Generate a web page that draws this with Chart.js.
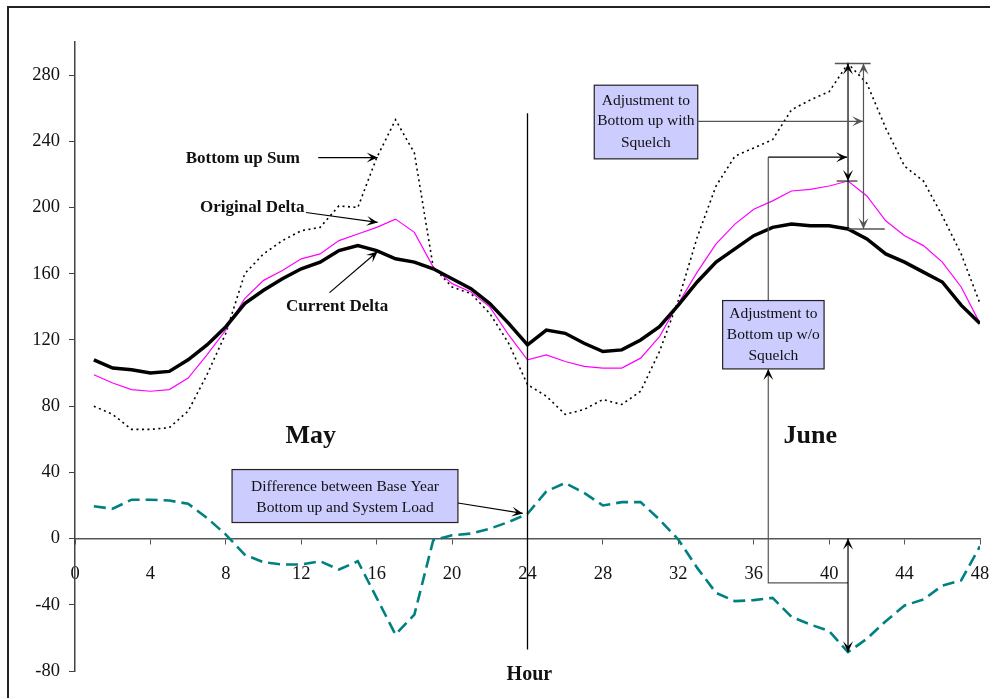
<!DOCTYPE html>
<html>
<head>
<meta charset="utf-8">
<script src="https://cdn.jsdelivr.net/npm/chart.js@4"></script>
<style>
  html, body { margin: 0; padding: 0; background: #fff; }
  #wrap { width: 990px; height: 698px; position: relative; }
</style>
</head>
<body>
<div id="wrap"><canvas id="chart" width="990" height="698"></canvas></div>
<script>
const hours = [1, 2, 3, 4, 5, 6, 7, 8, 9, 10, 11, 12, 13, 14, 15, 16, 17, 18, 19, 20, 21, 22, 23, 24,
               25, 26, 27, 28, 29, 30, 31, 32, 33, 34, 35, 36, 37, 38, 39, 40, 41, 42, 43, 44, 45, 46, 47, 48];

const currentDelta = [108, 103, 102, 100, 101, 108, 117, 128, 142, 150, 157, 163, 167, 174, 177, 174, 169, 167, 163, 157, 151, 142, 130, 117,
                      126, 124, 118, 113, 114, 120, 128, 141, 155, 167, 175, 183, 188, 190, 189, 189, 187, 181, 172, 167, 161, 155, 141, 130];

const originalDelta = [99, 94, 90, 89, 90, 97, 111, 126, 145, 156, 162, 169, 172, 180, 184, 188, 193, 185, 164, 154, 149, 140, 123, 108,
                       111, 107, 104, 103, 103, 109, 122, 142, 161, 178, 190, 199, 204, 210, 211, 213, 216, 207, 192, 183, 177, 167, 152, 130];

const bottomUpSum = [80, 75, 66, 66, 67, 77, 99, 124, 160, 172, 180, 186, 188, 201, 200, 230, 253, 233, 164, 152, 148, 136, 118, 93,
                     86, 75, 78, 84, 81, 89, 113, 144, 182, 213, 231, 236, 241, 259, 265, 270, 287, 275, 248, 225, 216, 195, 172, 142];

const difference = [19.5, 18, 23.5, 23.5, 23, 21, 12.5, 2.4, -9.7, -14.3, -15.7, -15.7, -13.7, -18.7, -13.7, -35.8, -58, -45.9, -1, 2, 3, 6, 10, 15,
                    28.5, 33.6, 27.6, 20, 22, 22, 11.5, -0.6, -17.7, -32.8, -37.8, -37.2, -35.8, -47.3, -51.9, -55.9, -68.6, -60.5, -49.9, -40.4, -36.8, -28.4, -25.3, -4.6];

const xTicks = [0, 4, 8, 12, 16, 20, 24, 28, 32, 36, 40, 44, 48];
const yTicks = [-80, -40, 0, 40, 80, 120, 160, 200, 240, 280];

const SERIF = '"Liberation Serif", "Times New Roman", serif';

function pts(arr) {
    return hours.map((h, i) => ({ x: h, y: arr[i] }));
}

// notched arrow head, tip at (x, y), pointing along ang
function head(ctx, x, y, ang, color) {
    ctx.save();
    ctx.translate(x, y);
    ctx.rotate(ang);
    ctx.beginPath();
    ctx.moveTo(0, 0);
    ctx.lineTo(-11, -5);
    ctx.lineTo(-6, 0);
    ctx.lineTo(-11, 5);
    ctx.closePath();
    ctx.fillStyle = color;
    ctx.fill();
    ctx.restore();
}

function arrow(ctx, x1, y1, x2, y2, color, both) {
    ctx.strokeStyle = color;
    ctx.lineWidth = 1.2;
    ctx.beginPath();
    ctx.moveTo(x1, y1);
    ctx.lineTo(x2, y2);
    ctx.stroke();
    const a = Math.atan2(y2 - y1, x2 - x1);
    head(ctx, x2, y2, a, color);
    if (both) head(ctx, x1, y1, a + Math.PI, color);
}

function line(ctx, points, color, w) {
    ctx.strokeStyle = color;
    ctx.lineWidth = w || 1.2;
    ctx.beginPath();
    points.forEach((p, i) => i ? ctx.lineTo(p[0], p[1]) : ctx.moveTo(p[0], p[1]));
    ctx.stroke();
}

function box(ctx, x1, y1, x2, y2, lines, ys, cx) {
    ctx.fillStyle = '#ccccff';
    ctx.fillRect(x1, y1, x2 - x1, y2 - y1);
    ctx.strokeStyle = '#222';
    ctx.lineWidth = 1.2;
    ctx.strokeRect(x1, y1, x2 - x1, y2 - y1);
    ctx.fillStyle = '#111';
    ctx.font = '15.5px ' + SERIF;
    ctx.textAlign = 'center';
    ctx.textBaseline = 'middle';
    lines.forEach((t, i) => ctx.fillText(t, cx, ys[i]));
}

const notes = {
    id: 'notes',
    afterDraw(chart) {
        const ctx = chart.ctx;
        const X = v => chart.scales.x.getPixelForValue(v);
        const Y = v => chart.scales.y.getPixelForValue(v);
        const k = 40; // index of hour 41
        ctx.save();

        // outer frame
        line(ctx, [[8, chart.height], [8, 7], [chart.width, 7]], '#222', 2);

        // month divider
        line(ctx, [[X(24), Y(257)], [X(24), Y(-67)]], '#000', 1.3);

        // bold labels
        ctx.fillStyle = '#111';
        ctx.textAlign = 'center';
        ctx.textBaseline = 'middle';
        ctx.font = 'bold 17px ' + SERIF;
        ctx.fillText('Bottom up Sum', X(8.9), Y(229.6));
        ctx.fillText('Original Delta', X(9.4), Y(200));
        ctx.fillText('Current Delta', X(13.9), Y(140.4));
        ctx.font = 'bold 26px ' + SERIF;
        ctx.fillText('May', X(12.5), Y(61.6));
        ctx.fillText('June', X(39), Y(61.6));
        ctx.font = 'bold 20px ' + SERIF;
        ctx.fillText('Hour', X(24.1), Y(-82.2));

        arrow(ctx, X(12.9), Y(230.2), X(16.05), Y(230.2), '#000');
        arrow(ctx, X(12.25), Y(197), X(16.05), Y(191), '#000');
        arrow(ctx, X(13.5), Y(148.6), X(16.05), Y(173.4), '#000');

        // difference box
        box(ctx, X(8.33), Y(41.7), X(20.31), Y(9.7),
            ['Difference between Base Year', 'Bottom up and System Load'], [Y(31.4), Y(18.7)], X(14.32));
        arrow(ctx, X(20.31), Y(21.5), X(23.75), Y(15.2), '#000');

        // squelch measurements at hour 41
        const grey = '#555';
        line(ctx, [[X(40.3), Y(bottomUpSum[k])], [X(42.2), Y(bottomUpSum[k])]], grey, 1.5);
        line(ctx, [[X(40.4), Y(originalDelta[k])], [X(41.5), Y(originalDelta[k])]], grey, 1.5);
        line(ctx, [[X(41), Y(currentDelta[k])], [X(42.95), Y(currentDelta[k])]], grey, 1.5);
        arrow(ctx, X(41), Y(originalDelta[k]), X(41), Y(bottomUpSum[k]), '#000', true);
        line(ctx, [[X(41), Y(originalDelta[k])], [X(41), Y(currentDelta[k])]], '#000');
        arrow(ctx, X(41.82), Y(currentDelta[k]), X(41.82), Y(bottomUpSum[k]), grey, true);

        // with squelch box
        box(ctx, X(27.54), Y(273.9), X(33.03), Y(229.4),
            ['Adjustment to', 'Bottom up with', 'Squelch'], [Y(264.2), Y(252.1), Y(239.1)], X(30.28));
        arrow(ctx, X(33.03), Y(252.1), X(41.8), Y(252.1), grey);

        // w/o squelch box
        line(ctx, [[X(36.77), Y(143.8)], [X(36.77), Y(230.4)]], grey);
        arrow(ctx, X(36.77), Y(230.4), X(40.95), Y(230.4), '#000');
        box(ctx, X(34.35), Y(143.8), X(39.73), Y(102.5),
            ['Adjustment to', 'Bottom up w/o', 'Squelch'], [Y(135.8), Y(123.3), Y(110.2)], X(37.04));
        line(ctx, [[X(41), Y(-26.8)], [X(36.77), Y(-26.8)], [X(36.77), Y(102.5)]], grey);
        head(ctx, X(36.77), Y(102.5), -Math.PI / 2, '#000');
        arrow(ctx, X(41), Y(difference[k]), X(41), Y(0), '#000', true);

        ctx.restore();
    }
};

new Chart(document.getElementById('chart'), {
    type: 'line',
    data: {
        datasets: [
            {
                label: 'Current Delta',
                data: pts(currentDelta),
                borderColor: '#000',
                borderWidth: 3.5,
                pointRadius: 0,
                tension: 0
            },
            {
                label: 'Original Delta',
                data: pts(originalDelta),
                borderColor: '#ff00ff',
                borderWidth: 1.2,
                pointRadius: 0,
                tension: 0
            },
            {
                label: 'Bottom up Sum',
                data: pts(bottomUpSum),
                borderColor: '#000',
                borderWidth: 1.6,
                borderDash: [2, 3.5],
                pointRadius: 0,
                tension: 0
            },
            {
                label: 'Difference',
                data: pts(difference),
                borderColor: '#008080',
                borderWidth: 2.6,
                borderDash: [12, 6],
                pointRadius: 0,
                tension: 0
            }
        ]
    },
    options: {
        responsive: false,
        animation: false,
        devicePixelRatio: 1,
        layout: { padding: { left: 10, right: 10, top: 42, bottom: 27 } },
        plugins: {
            legend: { display: false },
            tooltip: { enabled: false }
        },
        scales: {
            x: {
                type: 'linear',
                min: 0,
                max: 48,
                position: { y: 0 },
                afterFit: s => { s.height = 0; s.paddingLeft = 0; s.paddingRight = 0; },
                afterBuildTicks: s => { s.ticks = xTicks.map(v => ({ value: v })); },
                grid: { drawOnChartArea: false, tickLength: 5, color: '#555', lineWidth: 1 },
                border: { color: '#555', width: 1.5 },
                ticks: {
                    padding: 19,
                    maxRotation: 0,
                    color: '#111',
                    font: { family: SERIF, size: 18.5 }
                }
            },
            y: {
                min: -80,
                max: 300,
                afterFit: s => { s.width = 65; s.paddingTop = 0; s.paddingBottom = 0; },
                afterBuildTicks: s => { s.ticks = yTicks.map(v => ({ value: v })); },
                grid: { drawOnChartArea: false, tickLength: 6, color: '#444', lineWidth: 1 },
                border: { color: '#444', width: 1.5 },
                ticks: {
                    padding: 9,
                    color: '#111',
                    font: { family: SERIF, size: 18.5 }
                }
            }
        }
    },
    plugins: [notes]
});
</script>
</body>
</html>
